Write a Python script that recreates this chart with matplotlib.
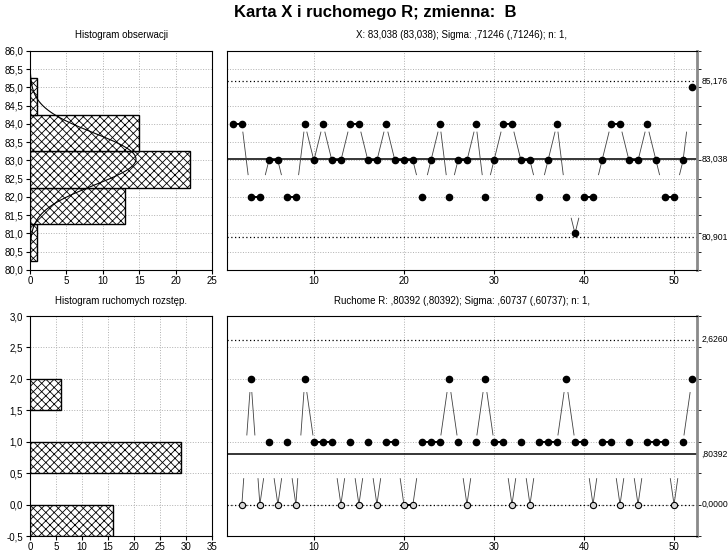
import numpy as np
import matplotlib.pyplot as plt
import matplotlib.transforms as mtransforms
from matplotlib.collections import LineCollection
from matplotlib.ticker import MultipleLocator, NullLocator, FuncFormatter, NullFormatter

plt.rcParams['font.family'] = ['Liberation Sans', 'DejaVu Sans']
plt.rcParams['hatch.linewidth'] = 0.6

# Obserwacje zmiennej B (kolejne próbki, n = 1)
x_obs = [84, 84, 82, 82, 83, 83, 82, 82, 84, 83,
         84, 83, 83, 84, 84, 83, 83, 84, 83, 83,
         83, 82, 83, 84, 82, 83, 83, 84, 82, 83,
         84, 84, 83, 83, 82, 83, 84, 82, 81, 82,
         82, 83, 84, 84, 83, 83, 84, 83, 82, 82,
         83, 85]
sample = np.arange(1, len(x_obs) + 1)
mr = np.abs(np.diff(x_obs))          # ruchomy rozstęp
mr_sample = sample[1:]

# Linie kontrolne
x_center, x_ucl, x_lcl = 83.038, 85.176, 80.901
r_center, r_ucl, r_lcl = 0.80392, 2.6260, 0.0
sigma = 0.71246

# Histogramy (dolne krawędzie przedziałów i liczności)
obs_bin_low = [80.25, 81.25, 82.25, 83.25, 84.25]
obs_counts = [1, 13, 22, 15, 1]
mr_bin_low = [-0.5, 0.5, 1.5]
mr_counts = [16, 29, 6]

title = "Karta X i ruchomego R; zmienna:  B"
x_title = "X: 83,038 (83,038); Sigma: ,71246 (,71246); n: 1,"
r_title = "Ruchome R: ,80392 (,80392); Sigma: ,60737 (,60737); n: 1,"
x_labels = ["85,176", "83,038", "80,901"]
r_labels = ["2,6260", ",80392", "0,0000"]

W, H = 728, 552
fig = plt.figure(figsize=(W / 100, H / 100), dpi=100)


def box(l, t, r, b):
    return [l / W, 1 - b / H, (r - l) / W, (b - t) / H]


ax_h1 = fig.add_axes(box(30, 51, 212, 270))
ax_x = fig.add_axes(box(227, 51, 697, 270))
ax_h2 = fig.add_axes(box(30, 316, 212, 536))
ax_r = fig.add_axes(box(227, 316, 697, 536))

grid_kw = dict(color='#b0b0b0', linestyle=':', linewidth=0.7)
comma = FuncFormatter(lambda v, p: f"{v:.1f}".replace('.', ','))

fig.text(0.515, 0.978, title, ha='center', va='center', fontsize=12, fontweight='bold')


def draw_links(ax, xs, ys, bands):
    slanted, flat = [], []
    for x0, y0, x1, y1 in zip(xs[:-1], ys[:-1], xs[1:], ys[1:]):
        if y0 == y1:
            flat.append([(x0, y0), (x1, y1)])
            continue
        for lo, hi in bands:
            ta = (lo - y0) / (y1 - y0)
            tb = (hi - y0) / (y1 - y0)
            ta, tb = max(min(ta, tb), 0), min(max(ta, tb), 1)
            if tb > ta:
                slanted.append([(x0 + ta * (x1 - x0), y0 + ta * (y1 - y0)),
                                (x0 + tb * (x1 - x0), y0 + tb * (y1 - y0))])
    ax.add_collection(LineCollection(slanted, colors='#404040', linewidths=0.6, zorder=3))
    ax.add_collection(LineCollection(flat, colors='black', linewidths=1.4, zorder=3))


def hist_panel(ax, lows, counts, height, xmax, ylim, name):
    ax.barh(lows, counts, height=height, align='edge', left=0, facecolor='white',
            edgecolor='black', linewidth=1.0, hatch='xxxx', zorder=2)
    ax.set_xlim(0, xmax)
    ax.set_ylim(*ylim)
    ax.xaxis.set_major_locator(MultipleLocator(5))
    ax.yaxis.set_major_locator(MultipleLocator(0.5))
    ax.yaxis.set_major_formatter(comma)
    ax.grid(True, **grid_kw)
    ax.set_axisbelow(True)
    ax.tick_params(labelsize=7, length=3, pad=2)
    ax.tick_params(axis='x', pad=1)
    ax.set_title(name, fontsize=7, pad=9)


def chart_panel(ax, xs, ys, ylim, center, ucl, lcl, labels, name, bands):
    ax.set_xlim(0.35, 52.55)
    ax.set_ylim(*ylim)
    ax.set_xticks([10, 20, 30, 40, 50])
    ax.yaxis.set_major_locator(NullLocator())
    ax.yaxis.set_minor_locator(MultipleLocator(0.5))
    ax.yaxis.set_minor_formatter(NullFormatter())
    ax.yaxis.tick_right()
    ax.grid(True, axis='x', **grid_kw)
    ax.grid(True, axis='y', which='minor', **grid_kw)
    ax.set_axisbelow(True)
    ax.tick_params(labelsize=7, length=3, pad=2)
    ax.tick_params(axis='x', pad=1)
    ax.tick_params(axis='y', which='minor', length=3, right=True, left=False)
    ax.spines['right'].set_color('#8a8a8a')
    ax.spines['right'].set_linewidth(2.0)
    ax.axhline(center, color='black', linewidth=1.1, zorder=2)
    ax.axhline(ucl, color='black', linestyle=(0, (1, 2)), linewidth=0.9, zorder=2)
    ax.axhline(lcl, color='black', linestyle=(0, (1, 2)), linewidth=0.9, zorder=2)
    tr = mtransforms.blended_transform_factory(ax.transAxes, ax.transData)
    for val, lab in zip([ucl, center, lcl], labels):
        ax.text(1.01, val, lab, transform=tr, fontsize=6.2, va='center', ha='left')
    draw_links(ax, list(xs), list(ys), bands)
    ax.set_title(name, fontsize=7, pad=9)


hist_panel(ax_h1, obs_bin_low, obs_counts, 1.0, 25, (80, 86), "Histogram obserwacji")
yy = np.linspace(80, 86, 400)
curve = len(x_obs) * 0.5 * np.exp(-0.5 * ((yy - x_center) / sigma) ** 2) / (sigma * np.sqrt(2 * np.pi))
ax_h1.plot(curve, yy, color='black', linewidth=0.8, zorder=3)

hist_panel(ax_h2, mr_bin_low, mr_counts, 0.5, 35, (-0.5, 3.0), "Histogram ruchomych rozstęp.")

chart_panel(ax_x, sample, x_obs, (80, 86), x_center, x_ucl, x_lcl, x_labels, x_title,
            [(-10, 81.43), (82.6, 83.79)])
ax_x.plot(sample, x_obs, 'o', color='black', markersize=4.5, zorder=4)

chart_panel(ax_r, mr_sample, mr, (-0.5, 3.0), r_center, r_ucl, r_lcl, r_labels, r_title,
            [(-10, 0.42), (1.1, 1.79)])
pos = mr > 0
ax_r.plot(mr_sample[pos], mr[pos], 'o', color='black', markersize=4.5, zorder=4)
ax_r.plot(mr_sample[~pos], mr[~pos], 'o', markerfacecolor='#d8d8d8', markeredgecolor='black',
          markeredgewidth=0.8, markersize=4.5, zorder=4)

fig.savefig('out.png', dpi=100)
